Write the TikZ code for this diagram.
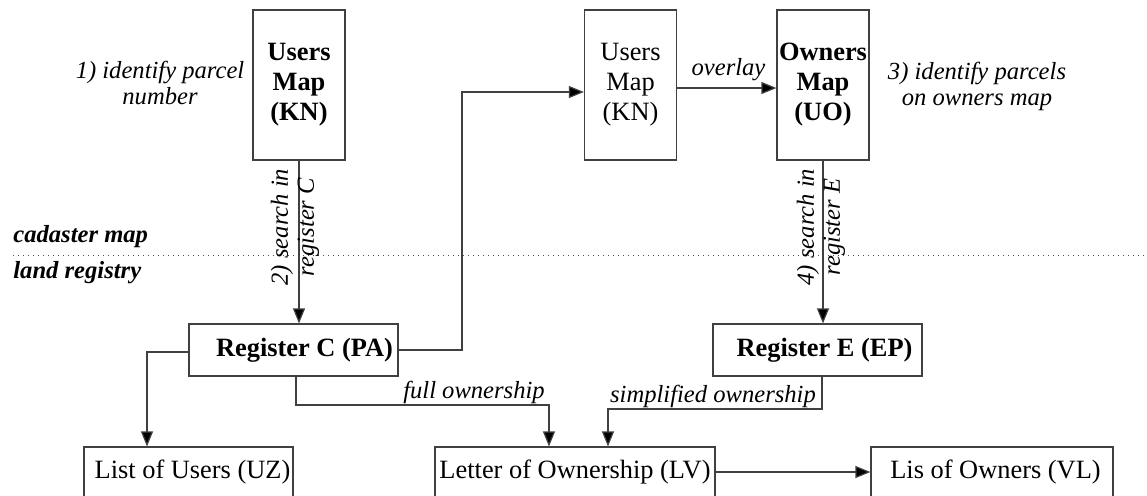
\documentclass[tikz,border=0pt]{standalone}
\usepackage{fontspec}
\setmainfont{Liberation Serif}
\usetikzlibrary{arrows.meta,calc}
\begin{document}
\begin{tikzpicture}[x=0.5pt,y=-0.5pt,
  box/.style={draw=black!75, line width=0.6pt, inner sep=0pt, align=center,
              font=\fontsize{13.2}{15}\selectfont},
  mapbox/.style={box, minimum width=46pt, minimum height=75pt},
  regbox/.style={box, minimum width=104.5pt, minimum height=26pt, font=\fontsize{13.2}{15}\selectfont\bfseries},
  listbox/.style={box, minimum height=25pt},
  lbl/.style={font=\fontsize{12.3}{13}\selectfont\itshape, inner sep=0pt, align=center},
  zone/.style={font=\fontsize{12.3}{13}\selectfont\bfseries\itshape, inner sep=0pt, anchor=west},
  link/.style={draw=black!75, line width=0.6pt},
  arr/.style={link, -{Triangle[length=7.5pt,width=6pt,fill=black]}}
]
\useasboundingbox (0,0) rectangle (1147,495);

% boundary between cadaster map and land registry
\draw[black!70, dotted, line width=0.5pt] (13,255) -- (1147,255);
\node[zone] (zcad) at (13,237) {cadaster map};
\node[zone] (zland) at (13,273) {land registry};

% maps
\node[mapbox, font=\fontsize{13.2}{15}\selectfont\bfseries] (um1) at (299,85) {Users\\Map\\(KN)};
\node[mapbox] (um2) at (630.5,85) {Users\\Map\\(KN)};
\node[mapbox, font=\fontsize{13.2}{15}\selectfont\bfseries] (om) at (823,85) {Owners\\Map\\(UO)};

% registers
\node[regbox] (regC) at (293.5,350) {\hspace{11pt}Register C (PA)};
\node[regbox] (regE) at (817.5,350) {\hspace{7pt}Register E (EP)};

% output documents
\node[listbox, minimum width=104.5pt] (uz) at (188.5,472) {\hspace{4pt}List of Users (UZ)};
\node[listbox, minimum width=140pt] (lv) at (575,472) {Letter of Ownership (LV)};
\node[listbox, minimum width=121pt] (vl) at (992,472) {\hspace{3.5pt}Lis of Owners (VL)};

% step labels
\node[lbl] (s1) at (160,82.5) {1) identify parcel\\number};
\node[lbl] (s3) at (977,86.5) {3) identify parcels\\on owners map};
\node[lbl] (ov) at (728.5,70) {overlay};
\node[lbl] (fo) at (474,392) {full ownership};
\node[lbl] (so) at (713,396) {simplified ownership};

% connectors
\draw[arr] (um1.south) -- (um1.south |- regC.north);
\node[lbl, rotate=90] (s2) at (295,227) {2) search in\\register C};

\draw[arr] (om.south) -- (om.south |- regE.north);
\node[lbl, rotate=90] (s4) at (821,227) {4) search in\\register E};

\coordinate (j1) at (462,92);
\draw[arr] (regC.east) -| (j1) -- (j1 -| um2.west);

\draw[arr] ([yshift=-1.5pt]um2.east) -- ([yshift=-1.5pt]om.west);

\draw[arr] ([yshift=-1pt]regC.west) -| ($(uz.north)+(-41.5,0)$);

\coordinate (j2) at (549,405);
\draw[arr] ($(regC.south)+(2.5,0)$) |- (j2) -- (j2 |- lv.north);

\coordinate (j3) at (608,409);
\draw[arr] ($(regE.south)+(4.5,0)$) |- (j3) -- (j3 |- lv.north);

\draw[arr] (lv.east) -- (vl.west);
\end{tikzpicture}
\end{document}
